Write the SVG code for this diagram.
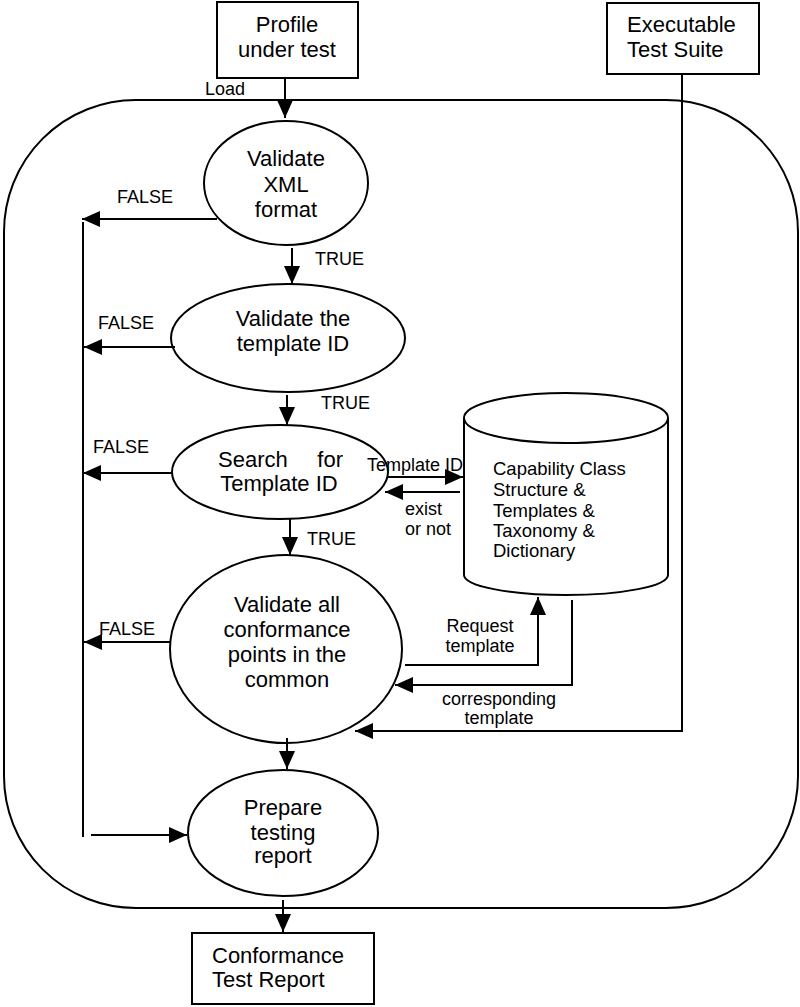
<svg xmlns="http://www.w3.org/2000/svg" width="800" height="1007" viewBox="0 0 800 1007">
  <defs>
    <style>
      .shape { fill: #ffffff; stroke: #000000; stroke-width: 2; }
      .line { fill: none; stroke: #000000; stroke-width: 2; }
      .node { font-family: "Liberation Sans", Arial, sans-serif; font-size: 22px; fill: #000000; }
      .lbl { font-family: "Liberation Sans", Arial, sans-serif; font-size: 18px; fill: #000000; }
      .db { font-family: "Liberation Sans", Arial, sans-serif; font-size: 18.5px; fill: #000000; }
      .mid { text-anchor: middle; }
    </style>
    <marker id="arrow" markerUnits="userSpaceOnUse" markerWidth="18" markerHeight="18" refX="18" refY="8" orient="auto" viewBox="0 0 18 16">
      <path d="M0,0 L18,8 L0,16 z" fill="#000000"/>
    </marker>
  </defs>

  <rect width="800" height="1007" fill="#ffffff"/>

  <!-- System boundary -->
  <rect id="system" x="4" y="100" width="794" height="808" rx="132" ry="132" fill="none" stroke="#000000" stroke-width="2"/>

  <g id="profile">
    <rect class="shape" x="217" y="2" width="141" height="76"/>
    <text class="node mid" x="287" y="32">Profile</text>
    <text class="node mid" x="287" y="57">under test</text>
  </g>

  <g id="suite">
    <rect class="shape" x="607" y="3" width="152" height="71"/>
    <text class="node" x="627" y="32">Executable</text>
    <text class="node" x="627" y="57">Test Suite</text>
  </g>

  <g id="validate-xml">
    <ellipse class="shape" cx="286" cy="183" rx="82" ry="62"/>
    <text class="node mid" x="286" y="166">Validate</text>
    <text class="node mid" x="286" y="192">XML</text>
    <text class="node mid" x="286" y="217">format</text>
  </g>

  <g id="validate-id">
    <ellipse class="shape" cx="288" cy="338" rx="117" ry="54"/>
    <text class="node mid" x="293" y="326">Validate the</text>
    <text class="node mid" x="293" y="351">template ID</text>
  </g>

  <g id="search-id">
    <ellipse class="shape" cx="280" cy="472" rx="108" ry="47"/>
    <text class="node" x="218" y="467">Search</text>
    <text class="node" x="343" y="467" text-anchor="end">for</text>
    <text class="node mid" x="279" y="491">Template ID</text>
  </g>

  <g id="repository">
    <path class="shape" d="M464,418 L464,575 A102,20 0 0 0 668,575 L668,418 A102,25 0 0 0 464,418 z"/>
    <path class="line" stroke-width="1.5" d="M464,418 A102,25 0 0 0 668,418"/>
    <text class="db" x="493" y="475">Capability Class</text>
    <text class="db" x="493" y="496">Structure &amp;</text>
    <text class="db" x="493" y="517">Templates &amp;</text>
    <text class="db" x="493" y="537">Taxonomy &amp;</text>
    <text class="db" x="493" y="557">Dictionary</text>
  </g>

  <g id="validate-all">
    <ellipse class="shape" cx="286" cy="649" rx="116" ry="94"/>
    <text class="node mid" x="287" y="612">Validate all</text>
    <text class="node mid" x="287" y="637">conformance</text>
    <text class="node mid" x="287" y="662">points in the</text>
    <text class="node mid" x="287" y="687">common</text>
  </g>

  <g id="prepare-report">
    <ellipse class="shape" cx="283" cy="833" rx="95" ry="63"/>
    <text class="node mid" x="283" y="815">Prepare</text>
    <text class="node mid" x="283" y="840">testing</text>
    <text class="node mid" x="283" y="863">report</text>
  </g>

  <g id="test-report">
    <rect class="shape" x="192" y="933" width="182" height="71"/>
    <text class="node" x="212" y="963">Conformance</text>
    <text class="node" x="212" y="987">Test Report</text>
  </g>

  <g id="connectors">
    <!-- main flow -->
    <line class="line" x1="285" y1="78" x2="285" y2="118" marker-end="url(#arrow)"/>
    <line class="line" x1="292" y1="248" x2="292" y2="284" marker-end="url(#arrow)"/>
    <line class="line" x1="287" y1="395" x2="287" y2="425" marker-end="url(#arrow)"/>
    <line class="line" x1="290" y1="519" x2="290" y2="555" marker-end="url(#arrow)"/>
    <line class="line" x1="287" y1="738" x2="287" y2="769" marker-end="url(#arrow)"/>
    <line class="line" x1="283" y1="900" x2="283" y2="932" marker-end="url(#arrow)"/>

    <!-- FALSE branches to the collecting line -->
    <line class="line" x1="217" y1="219" x2="82" y2="219" marker-end="url(#arrow)"/>
    <line class="line" x1="175" y1="347" x2="84" y2="347" marker-end="url(#arrow)"/>
    <line class="line" x1="173" y1="473" x2="83" y2="473" marker-end="url(#arrow)"/>
    <line class="line" x1="170" y1="642" x2="84" y2="642" marker-end="url(#arrow)"/>
    <line class="line" x1="83" y1="222" x2="83" y2="837"/>
    <line class="line" x1="91" y1="835" x2="187" y2="835" marker-end="url(#arrow)"/>

    <!-- repository exchange -->
    <line class="line" x1="388" y1="477" x2="463" y2="477" marker-end="url(#arrow)"/>
    <line class="line" x1="460" y1="492" x2="385" y2="492" marker-end="url(#arrow)"/>
    <polyline class="line" points="405,665 538,665 538,597" marker-end="url(#arrow)"/>
    <polyline class="line" points="572,600 572,685 395,685" marker-end="url(#arrow)"/>

    <!-- executable test suite feed -->
    <polyline class="line" points="682,74 682,731 355,731" marker-end="url(#arrow)"/>

    <!-- labels -->
    <text class="lbl" x="205" y="95">Load</text>
    <text class="lbl" x="117" y="203">FALSE</text>
    <text class="lbl" x="315" y="265">TRUE</text>
    <text class="lbl" x="98" y="329">FALSE</text>
    <text class="lbl" x="321" y="409">TRUE</text>
    <text class="lbl" x="93" y="453">FALSE</text>
    <text class="lbl" x="307" y="545">TRUE</text>
    <text class="lbl" x="99" y="635">FALSE</text>
    <text class="lbl" x="367" y="471">Template ID</text>
    <text class="lbl" x="405" y="515">exist</text>
    <text class="lbl" x="405" y="535">or not</text>
    <text class="lbl mid" x="480" y="632">Request</text>
    <text class="lbl mid" x="480" y="652">template</text>
    <text class="lbl mid" x="499" y="705">corresponding</text>
    <text class="lbl mid" x="499" y="724">template</text>
  </g>
</svg>
